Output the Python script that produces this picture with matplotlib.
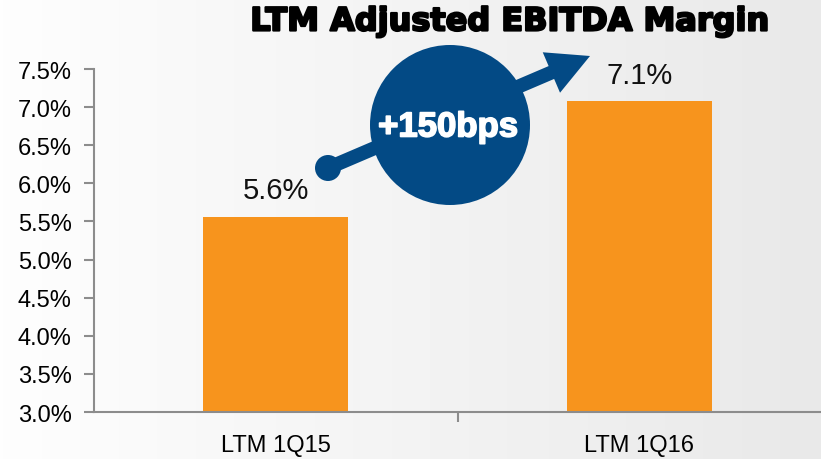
import matplotlib
matplotlib.use("Agg")
import matplotlib.pyplot as plt
import matplotlib.patheffects as pe
import numpy as np
from matplotlib.patches import Circle, FancyArrow

categories = ["LTM 1Q15", "LTM 1Q16"]
margins = [5.56, 7.08]
value_labels = ["5.6%", "7.1%"]
yticks = [3.0, 3.5, 4.0, 4.5, 5.0, 5.5, 6.0, 6.5, 7.0, 7.5]
title = "LTM Adjusted EBITDA Margin"
badge = "+150bps"

orange = "#F7941D"
navy = "#034A85"
axis_gray = "#8C8C8C"

plt.rcParams["font.family"] = ["Liberation Sans", "DejaVu Sans"]

fig = plt.figure(figsize=(8.21, 4.6), dpi=100)

# background gradient: white on the left, light grey on the right
bg = fig.add_axes([0, 0, 1, 1], zorder=-10)
grad = np.linspace(0, 1, 256)[None, :]
bg.imshow(grad, aspect="auto", cmap=matplotlib.colors.LinearSegmentedColormap.from_list(
    "bg", ["#FEFEFE", "#E9E9E9"]), extent=[0, 1, 0, 1])
bg.axis("off")

ax = fig.add_axes([94 / 821, 47 / 460, 727 / 821, 343 / 460])
ax.patch.set_alpha(0)
x = np.arange(len(categories))
ax.bar(x, margins, width=0.4, color=orange, zorder=2)
ax.set_xlim(-0.5, len(categories) - 0.5)
ax.set_ylim(yticks[0], yticks[-1])
ax.set_yticks(yticks)
ax.set_yticklabels([f"{t:.1f}%" for t in yticks], fontsize=17)
ax.set_xticks(x)
ax.set_xticklabels(categories, fontsize=17)
ax.set_xticks([0.5], minor=True)
ax.tick_params(axis="x", which="major", length=0, pad=16)
ax.tick_params(axis="x", which="minor", length=7, color=axis_gray, width=1.5)
ax.tick_params(axis="y", length=7, color=axis_gray, width=1.5, pad=9)
for s in ["top", "right"]:
    ax.spines[s].set_visible(False)
for s in ["left", "bottom"]:
    ax.spines[s].set_color(axis_gray)
    ax.spines[s].set_linewidth(1.5)

for xi, v, lab in zip(x, margins, value_labels):
    ax.annotate(lab, (xi, v), xytext=(0, 9), textcoords="offset points",
                ha="center", va="bottom", fontsize=21, color="#111111")

# overlay in pixel coordinates for the growth badge
ov = fig.add_axes([0, 0, 1, 1], zorder=5)
ov.set_xlim(0, 821)
ov.set_ylim(460, 0)
ov.axis("off")
ov.add_patch(FancyArrow(328, 169, 262, -112, width=14, head_width=44,
                        head_length=42, length_includes_head=True,
                        color=navy, lw=0))
ov.add_patch(Circle((328, 169), 13, color=navy, lw=0))
ov.add_patch(Circle((450, 126), 80, color=navy, lw=0))
ov.text(448, 128, badge, color="white", fontsize=25, fontweight="bold",
        ha="center", va="center",
        path_effects=[pe.withStroke(linewidth=1.2, foreground="white")])

fig.text(510 / 821, 1 - 23 / 460, title, fontsize=23, fontweight="bold",
         family=["DejaVu Sans"], ha="center", va="center", color="black",
         path_effects=[pe.withStroke(linewidth=1.6, foreground="black")])

fig.savefig("out.png", dpi=100)
